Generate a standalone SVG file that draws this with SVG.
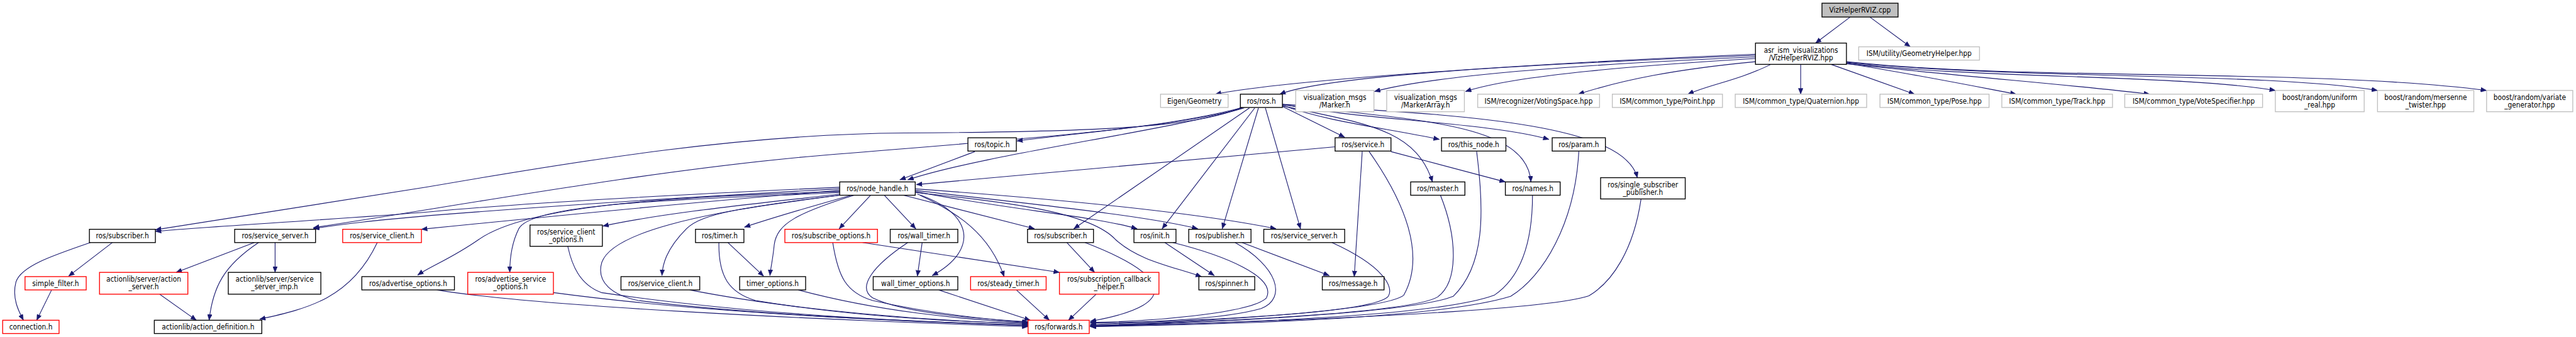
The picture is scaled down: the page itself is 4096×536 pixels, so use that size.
<svg xmlns="http://www.w3.org/2000/svg" width="4096" height="536" viewBox="0 0 4096 536">
<style>
.node rect{fill:#fff;stroke:#000;stroke-width:1.6}
.ext rect{stroke:#bfbfbf}
.red rect{stroke:#ff0000}
.root rect{fill:#bfbfbf}
.node text{font-family:"DejaVu Sans Condensed","DejaVu Sans",sans-serif;font-size:14px;fill:#000;text-anchor:middle}
#edges path{fill:none;stroke:#191970;stroke-width:1.3;marker-end:url(#ah)}
</style>
<defs>
<marker id="ah" markerUnits="userSpaceOnUse" markerWidth="12" markerHeight="9" refX="11" refY="4.5" orient="auto" viewBox="0 0 12 9">
<path d="M0,0 L11,4.5 L0,9 z" fill="#191970" stroke="#191970" stroke-width="0.5"/>
</marker>
</defs>
<rect width="4096" height="536" fill="#fff"/>
<g transform="scale(0.8461)">
<g id="edges">
<path d="M3477,32 L3412,81"/>
<path d="M3514,32 L3590,88"/>
<path d="M3299,102 C2900,118 2420,150 2284,177"/>
<path d="M3299,104 C2900,120 2500,140 2405,177"/>
<path d="M3299,107 C3000,120 2700,140 2583,172"/>
<path d="M3299,110 C3100,122 2850,140 2754,172"/>
<path d="M3299,116 C3150,130 3050,150 2966,177"/>
<path d="M3328,121 C3270,150 3210,160 3172,177"/>
<path d="M3384,121 L3384,177"/>
<path d="M3441,121 L3598,177"/>
<path d="M3470,119 C3600,140 3700,160 3789,177"/>
<path d="M3470,120 C3700,145 3900,160 4040,177"/>
<path d="M3470,118 C3700,148 4100,140 4276,170"/>
<path d="M3470,117 C3800,150 4250,135 4468,170"/>
<path d="M3470,116 C3800,152 4350,128 4673,170"/>
<path d="M2335,202 C2200,238 2020,250 1911,265"/>
<path d="M2338,203 C2200,245 1850,290 1706,338"/>
<path d="M2332,202 C2250,240 2050,248 1700,250 C1400,252 1100,300 800,352 L292,432"/>
<path d="M2335,203 C2200,245 1800,270 1500,296 C1200,325 900,380 589,428"/>
<path d="M2410,200 L2527,258"/>
<path d="M2410,198 C2500,230 2600,240 2705,262"/>
<path d="M2410,196 C2550,225 2800,230 2911,262"/>
<path d="M2410,199 C2560,232 2660,240 2692,342"/>
<path d="M2410,197 C2650,225 2870,230 2877,342"/>
<path d="M2410,196 C2700,215 3050,225 3077,334"/>
<path d="M2378,203 L2444,430"/>
<path d="M2365,203 L2297,430"/>
<path d="M2358,203 L2184,430"/>
<path d="M2348,203 L2018,430"/>
<path d="M2509,276 L1722,347"/>
<path d="M2614,285 L2829,342"/>
<path d="M2560,285 L2545,520"/>
<path d="M2573,285 C2640,380 2680,480 2638,555 C2600,585 2250,605 2049,612"/>
<path d="M2775,285 C2790,400 2790,500 2731,557 C2650,590 2250,607 2049,613"/>
<path d="M2967,285 C2960,420 2900,520 2839,557 C2700,600 2300,610 2049,614"/>
<path d="M2707,367 C2740,450 2740,530 2702,558 C2650,590 2250,606 2049,612"/>
<path d="M2880,367 C2880,450 2860,520 2808,555 C2700,595 2300,608 2049,613"/>
<path d="M3084,374 C3070,470 3030,530 2986,556 C2900,585 2400,605 2049,614"/>
<path d="M2503,456 C2600,500 2620,540 2609,557 C2580,590 2250,602 2049,610"/>
<path d="M1662,367 L1721,430"/>
<path d="M1636,367 L1577,430"/>
<path d="M1698,367 L1944,430"/>
<path d="M1720,360 C1900,395 2050,405 2137,430"/>
<path d="M1720,358 C1950,385 2150,405 2251,430"/>
<path d="M1720,355 C2000,375 2250,400 2398,430"/>
<path d="M1720,362 C1900,380 2050,400 2096,450 C2140,490 2200,500 2258,520"/>
<path d="M1724,365 C1830,400 1840,470 1752,518"/>
<path d="M1729,367 C1800,400 1860,440 1887,520"/>
<path d="M1578,352 C1300,365 1000,380 810,398 C600,415 400,425 292,435"/>
<path d="M1578,355 C1300,370 1000,390 810,405 C700,415 650,420 589,430"/>
<path d="M1578,358 C1300,380 1000,410 792,431"/>
<path d="M1578,360 C1300,370 1000,380 900,450 C850,485 810,500 785,517"/>
<path d="M1578,362 C1300,375 1000,380 975,430 C960,460 958,490 958,512"/>
<path d="M1578,365 C1400,385 1250,400 1133,425"/>
<path d="M1578,367 C1400,390 1320,400 1290,430 C1250,470 1245,500 1244,518"/>
<path d="M1600,367 C1500,395 1450,410 1399,427"/>
<path d="M1605,367 C1500,400 1460,420 1455,460 C1452,490 1448,505 1447,518"/>
<path d="M1578,367 C1300,400 1150,440 1131,493 C1120,530 1150,555 1200,565 C1400,590 1700,605 1932,612"/>
<path d="M821,545 C1000,575 1500,600 1932,614"/>
<path d="M1040,550 C1300,585 1600,600 1932,612"/>
<path d="M1067,463 C1075,500 1090,535 1130,550 C1400,590 1700,605 1932,611"/>
<path d="M1296,545 C1500,585 1750,603 1932,609"/>
<path d="M1351,456 C1350,520 1370,550 1420,565 C1600,595 1800,605 1932,608"/>
<path d="M1368,456 L1435,519"/>
<path d="M1500,545 C1650,585 1800,600 1932,607"/>
<path d="M1565,456 C1575,520 1590,550 1640,565 C1750,590 1850,600 1932,606"/>
<path d="M1621,456 L1991,512"/>
<path d="M1733,456 L1724,519"/>
<path d="M1706,456 C1640,500 1610,540 1640,560 C1700,590 1850,600 1932,605"/>
<path d="M1764,545 L1936,602"/>
<path d="M1910,545 L1972,602"/>
<path d="M2060,553 L2008,602"/>
<path d="M2005,456 L2057,512"/>
<path d="M2039,456 C2180,510 2240,570 2049,604"/>
<path d="M2189,456 L2282,518"/>
<path d="M2204,456 C2300,480 2400,520 2380,560 C2350,590 2150,605 2049,606"/>
<path d="M2321,456 C2400,500 2420,560 2370,580 C2300,600 2150,607 2049,607"/>
<path d="M2334,456 L2498,518"/>
<path d="M170,456 C100,480 40,500 30,530 C22,560 35,585 44,602"/>
<path d="M211,456 L129,519"/>
<path d="M97,545 L69,602"/>
<path d="M478,456 L331,512"/>
<path d="M486,456 C420,500 400,540 393,602"/>
<path d="M517,456 L517,512"/>
<path d="M300,553 L369,602"/>
<path d="M709,456 C660,560 580,580 488,600"/>
<path d="M1832,285 L1691,338"/>
</g>
<g id="n_cpp" class="node root"><rect x="3424" y="6" width="143" height="26"/><text x="3495.5" y="24">VizHelperRVIZ.cpp</text></g>
<g id="n_asr" class="node"><rect x="3299" y="81" width="171" height="40"/><text x="3384.5" y="99">asr_ism_visualizations</text><text x="3384.5" y="113">/VizHelperRVIZ.hpp</text></g>
<g id="n_geo" class="node ext"><rect x="3493" y="88" width="227" height="25"/><text x="3606.5" y="105.5">ISM/utility/GeometryHelper.hpp</text></g>
<g id="n_eigen" class="node ext"><rect x="2181" y="177" width="127" height="25"/><text x="2244.5" y="194.5">Eigen/Geometry</text></g>
<g id="n_ros" class="node"><rect x="2331" y="177" width="79" height="25"/><text x="2370.5" y="194.5">ros/ros.h</text></g>
<g id="n_marker" class="node ext"><rect x="2435" y="170" width="147" height="40"/><text x="2508.5" y="188">visualization_msgs</text><text x="2508.5" y="202">/Marker.h</text></g>
<g id="n_markerarray" class="node ext"><rect x="2606" y="170" width="146" height="40"/><text x="2679" y="188">visualization_msgs</text><text x="2679" y="202">/MarkerArray.h</text></g>
<g id="n_voting" class="node ext"><rect x="2777" y="177" width="229" height="25"/><text x="2891.5" y="194.5">ISM/recognizer/VotingSpace.hpp</text></g>
<g id="n_point" class="node ext"><rect x="3030" y="177" width="207" height="25"/><text x="3133.5" y="194.5">ISM/common_type/Point.hpp</text></g>
<g id="n_quat" class="node ext"><rect x="3261" y="177" width="247" height="25"/><text x="3384.5" y="194.5">ISM/common_type/Quaternion.hpp</text></g>
<g id="n_pose" class="node ext"><rect x="3533" y="177" width="205" height="25"/><text x="3635.5" y="194.5">ISM/common_type/Pose.hpp</text></g>
<g id="n_track" class="node ext"><rect x="3762" y="177" width="208" height="25"/><text x="3866" y="194.5">ISM/common_type/Track.hpp</text></g>
<g id="n_vote" class="node ext"><rect x="3993" y="177" width="259" height="25"/><text x="4122.5" y="194.5">ISM/common_type/VoteSpecifier.hpp</text></g>
<g id="n_uniform" class="node ext"><rect x="4276" y="170" width="167" height="40"/><text x="4359.5" y="188">boost/random/uniform</text><text x="4359.5" y="202">_real.hpp</text></g>
<g id="n_mersenne" class="node ext"><rect x="4468" y="170" width="181" height="40"/><text x="4558.5" y="188">boost/random/mersenne</text><text x="4558.5" y="202">_twister.hpp</text></g>
<g id="n_variate" class="node ext"><rect x="4673" y="170" width="162" height="40"/><text x="4754" y="188">boost/random/variate</text><text x="4754" y="202">_generator.hpp</text></g>
<g id="n_topic" class="node"><rect x="1819" y="259" width="91" height="25"/><text x="1864.5" y="276.5">ros/topic.h</text></g>
<g id="n_service" class="node"><rect x="2509" y="259" width="105" height="25"/><text x="2561.5" y="276.5">ros/service.h</text></g>
<g id="n_thisnode" class="node"><rect x="2709" y="259" width="121" height="25"/><text x="2769.5" y="276.5">ros/this_node.h</text></g>
<g id="n_param" class="node"><rect x="2917" y="259" width="100" height="25"/><text x="2967" y="276.5">ros/param.h</text></g>
<g id="n_nodehandle" class="node"><rect x="1578" y="342" width="142" height="25"/><text x="1649" y="359.5">ros/node_handle.h</text></g>
<g id="n_master" class="node"><rect x="2651" y="342" width="102" height="25"/><text x="2702" y="359.5">ros/master.h</text></g>
<g id="n_names" class="node"><rect x="2829" y="342" width="103" height="25"/><text x="2880.5" y="359.5">ros/names.h</text></g>
<g id="n_ssp" class="node"><rect x="3008" y="334" width="159" height="40"/><text x="3087.5" y="352">ros/single_subscriber</text><text x="3087.5" y="366">_publisher.h</text></g>
<g id="n_sub1" class="node"><rect x="168" y="431" width="124" height="25"/><text x="230" y="448.5">ros/subscriber.h</text></g>
<g id="n_ss1" class="node"><rect x="441" y="431" width="152" height="25"/><text x="517" y="448.5">ros/service_server.h</text></g>
<g id="n_sc1" class="node red"><rect x="644" y="431" width="148" height="25"/><text x="718" y="448.5">ros/service_client.h</text></g>
<g id="n_sco" class="node"><rect x="996" y="423" width="136" height="40"/><text x="1064" y="441">ros/service_client</text><text x="1064" y="455">_options.h</text></g>
<g id="n_timer" class="node"><rect x="1307" y="431" width="91" height="25"/><text x="1352.5" y="448.5">ros/timer.h</text></g>
<g id="n_subopt" class="node red"><rect x="1475" y="431" width="174" height="25"/><text x="1562" y="448.5">ros/subscribe_options.h</text></g>
<g id="n_walltimer" class="node"><rect x="1673" y="431" width="127" height="25"/><text x="1736.5" y="448.5">ros/wall_timer.h</text></g>
<g id="n_sub2" class="node"><rect x="1931" y="431" width="124" height="25"/><text x="1993" y="448.5">ros/subscriber.h</text></g>
<g id="n_init" class="node"><rect x="2131" y="431" width="79" height="25"/><text x="2170.5" y="448.5">ros/init.h</text></g>
<g id="n_pub" class="node"><rect x="2234" y="431" width="117" height="25"/><text x="2292.5" y="448.5">ros/publisher.h</text></g>
<g id="n_ss2" class="node"><rect x="2375" y="431" width="152" height="25"/><text x="2451" y="448.5">ros/service_server.h</text></g>
<g id="n_sf" class="node red"><rect x="47" y="520" width="115" height="25"/><text x="104.5" y="537.5">simple_filter.h</text></g>
<g id="n_as" class="node red"><rect x="187" y="512" width="166" height="41"/><text x="270" y="530">actionlib/server/action</text><text x="270" y="544">_server.h</text></g>
<g id="n_ssi" class="node"><rect x="429" y="512" width="174" height="41"/><text x="516" y="530">actionlib/server/service</text><text x="516" y="544">_server_imp.h</text></g>
<g id="n_ao" class="node"><rect x="680" y="520" width="174" height="25"/><text x="767" y="537.5">ros/advertise_options.h</text></g>
<g id="n_aso" class="node red"><rect x="879" y="512" width="161" height="41"/><text x="959.5" y="530">ros/advertise_service</text><text x="959.5" y="544">_options.h</text></g>
<g id="n_sc2" class="node"><rect x="1167" y="520" width="148" height="25"/><text x="1241" y="537.5">ros/service_client.h</text></g>
<g id="n_to" class="node"><rect x="1390" y="520" width="124" height="25"/><text x="1452" y="537.5">timer_options.h</text></g>
<g id="n_wto" class="node"><rect x="1641" y="520" width="159" height="25"/><text x="1720.5" y="537.5">wall_timer_options.h</text></g>
<g id="n_st" class="node red"><rect x="1824" y="520" width="142" height="25"/><text x="1895" y="537.5">ros/steady_timer.h</text></g>
<g id="n_sch" class="node red"><rect x="1991" y="512" width="187" height="41"/><text x="2084.5" y="530">ros/subscription_callback</text><text x="2084.5" y="544">_helper.h</text></g>
<g id="n_spinner" class="node"><rect x="2253" y="520" width="105" height="25"/><text x="2305.5" y="537.5">ros/spinner.h</text></g>
<g id="n_message" class="node"><rect x="2485" y="520" width="116" height="25"/><text x="2543" y="537.5">ros/message.h</text></g>
<g id="n_conn" class="node red"><rect x="5" y="602" width="106" height="25"/><text x="58" y="619.5">connection.h</text></g>
<g id="n_ad" class="node"><rect x="290" y="602" width="202" height="25"/><text x="391" y="619.5">actionlib/action_definition.h</text></g>
<g id="n_fw" class="node red"><rect x="1932" y="602" width="115" height="25"/><text x="1989.5" y="619.5">ros/forwards.h</text></g>
</g>
</svg>
